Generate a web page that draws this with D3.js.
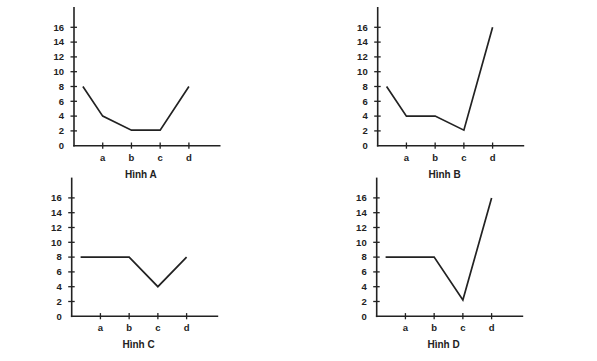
<!DOCTYPE html>
<html><head><meta charset="utf-8">
<script src="https://cdn.jsdelivr.net/npm/d3@7"></script>
<style>body{margin:0;background:#fff}svg{display:block}text{font-family:"Liberation Sans",Arial,sans-serif;font-weight:bold;fill:#222}</style>
</head><body>
<script>
const categories = ["a", "b", "c", "d"];
const yTicks = [0, 2, 4, 6, 8, 10, 12, 14, 16];
// first value = starting point just right of the y axis, then a, b, c, d
const seriesA = [8, 4, 2.1, 2.1, 8];
const seriesB = [8, 4, 4, 2.1, 16];
const seriesC = [8, 8, 8, 4, 8];
const seriesD = [8, 8, 8, 2.2, 16];
const titles = ["Hình A", "Hình B", "Hình C", "Hình D"];

const panels = [
  {ox: 74,    oy: 145.7, data: seriesA, title: titles[0]},
  {ox: 377.7, oy: 145.7, data: seriesB, title: titles[1]},
  {ox: 71.7,  oy: 316.3, data: seriesC, title: titles[2]},
  {ox: 376.7, oy: 316.3, data: seriesD, title: titles[3]}
];

const svg = d3.select("body").append("svg").attr("width", 597).attr("height", 361);

panels.forEach(p => {
  const g = svg.append("g");
  const x = d3.scaleLinear().domain([0, 5.1]).range([p.ox, p.ox + 146.5]);
  const y = d3.scaleLinear().domain([0, 16]).range([p.oy, p.oy - 118.4]);
  const xi = i => x(i === 0 ? 0.31 : i);
  const col = "#222";
  // axes lines
  g.append("line").attr("x1", p.ox).attr("x2", p.ox).attr("y1", p.oy + 0.8).attr("y2", y(16) - 20.3)
    .attr("stroke", col).attr("stroke-width", 1.6);
  g.append("line").attr("x1", p.ox - 0.8).attr("x2", x(5.1)).attr("y1", p.oy).attr("y2", p.oy)
    .attr("stroke", col).attr("stroke-width", 1.6);
  // y ticks
  yTicks.forEach(t => {
    if (t > 0) g.append("line").attr("x1", p.ox - 3.5).attr("x2", p.ox + 3).attr("y1", y(t)).attr("y2", y(t))
      .attr("stroke", col).attr("stroke-width", 1.3);
    g.append("text").attr("x", p.ox - 10).attr("y", y(t)).attr("dy", "0.35em")
      .attr("text-anchor", "end").attr("font-size", 9.5).text(t);
  });
  // x ticks
  categories.forEach((c, i) => {
    g.append("line").attr("x1", x(i + 1)).attr("x2", x(i + 1)).attr("y1", p.oy - 3.2).attr("y2", p.oy + 3)
      .attr("stroke", col).attr("stroke-width", 1.3);
    g.append("text").attr("x", x(i + 1)).attr("y", p.oy + 11.6).attr("dy", "0.35em")
      .attr("text-anchor", "middle").attr("font-size", 9.5).text(c);
  });
  // line
  g.append("path").datum(p.data)
    .attr("d", d3.line().x((d, i) => xi(i)).y(d => y(d)))
    .attr("fill", "none").attr("stroke", col).attr("stroke-width", 1.7).attr("stroke-linejoin", "miter");
  // title
  g.append("text").attr("x", x(2.33)).attr("y", p.oy + 28.6).attr("dy", "0.35em")
    .attr("text-anchor", "middle").attr("font-size", 10).text(p.title);
});
</script>
</body></html>
